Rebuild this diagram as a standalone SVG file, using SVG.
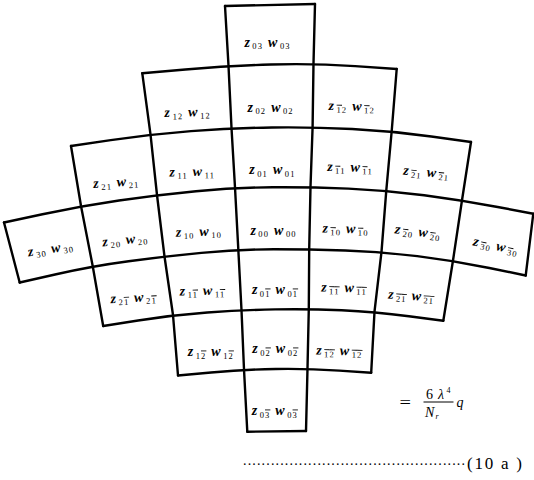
<svg xmlns="http://www.w3.org/2000/svg" width="534" height="480" viewBox="0 0 534 480">
<style>
.g{fill:none;stroke:#000;stroke-width:2.4;stroke-linejoin:round;stroke-linecap:round}
.l{font-family:"Liberation Serif","Times New Roman",serif;fill:#000;text-anchor:middle}
.v{font-size:14px;font-weight:bold;font-style:italic}
.s{font-size:8.5px;letter-spacing:1.1px}
.o{text-decoration:overline}
.f{font-family:"Liberation Serif","Times New Roman",serif;fill:#000}
.i{font-style:italic}
</style>
<rect width="534" height="480" fill="#fff"/>
<g id="grid" class="g">
<path d="M4,222.5 L19.7,282.5"/>
<path d="M71,146 L81,206 L92.7,266 L103.2,326"/>
<path d="M142.3,73.3 L150.5,134.3 L157,195 L164.5,256.5 L173,315 L178,375.5"/>
<path d="M225,6 L228.5,65.7 L231.5,128 L235,187.5 L238.3,249.3 L241.5,310 L244,369.5 L247.3,431.7"/>
<path d="M315,4 L313.5,63.3 L312.6,127 L310.5,187 L309.2,249.3 L308.8,308.8 L307.5,368.5 L306,431"/>
<path d="M396.7,69 L391.7,131 L386.3,190.3 L381.5,251.8 L374.5,311.7 L371.2,372.7"/>
<path d="M471,142 L462,200.3 L453,260.5 L443.3,320.7"/>
<path d="M533.3,213.7 L525.7,275.5"/>
<path d="M225,6 L315,4"/>
<path d="M142.3,73.3 L185.4,69.5 Q228.5,65.7 271,64.5 Q313.5,63.3 355.1,66.15 L396.7,69"/>
<path d="M71,146 L110.75,140.15 Q150.5,134.3 191,131.15 Q231.5,128 272.05,127.5 Q312.6,127 352.15,129 Q391.7,131 431.35,136.5 L471,142"/>
<path d="M4,222.5 L42.5,214.25 Q81,206 119,200.5 Q157,195 196,191.25 Q235,187.5 272.75,187.25 Q310.5,187 348.4,188.65 Q386.3,190.3 424.15,195.3 Q462,200.3 497.65,207 L533.3,213.7"/>
<path d="M19.7,282.5 L56.2,274.25 Q92.7,266 128.6,261.25 Q164.5,256.5 201.4,252.9 Q238.3,249.3 273.75,249.3 Q309.2,249.3 345.35,250.55 Q381.5,251.8 417.25,256.15 Q453,260.5 489.35,268 L525.7,275.5"/>
<path d="M103.2,326 L138.1,320.5 Q173,315 207.25,312.5 Q241.5,310 275.15,309.4 Q308.8,308.8 341.65,310.25 Q374.5,311.7 408.9,316.2 L443.3,320.7"/>
<path d="M178,375.5 L211,372.5 Q244,369.5 275.75,369 Q307.5,368.5 339.35,370.6 L371.2,372.7"/>
<path d="M247.3,431.7 L306,431"/>
</g>
<g id="c03"><text class="l" transform="translate(267.5,46.5)"><tspan class="v">z</tspan><tspan class="s" dx="2.5" dy="2.5">03</tspan><tspan class="v" dx="5" dy="-2.5">w</tspan><tspan class="s" dx="2.5" dy="2.5">03</tspan></text></g>
<g id="c12"><text class="l" transform="translate(187.7,116.5) rotate(-1.5)"><tspan class="v">z</tspan><tspan class="s" dx="2.5" dy="2.5">12</tspan><tspan class="v" dx="5" dy="-2.5">w</tspan><tspan class="s" dx="2.5" dy="2.5">12</tspan></text></g>
<g id="c02"><text class="l" transform="translate(270.6,111.5)"><tspan class="v">z</tspan><tspan class="s" dx="2.5" dy="2.5">02</tspan><tspan class="v" dx="5" dy="-2.5">w</tspan><tspan class="s" dx="2.5" dy="2.5">02</tspan></text></g>
<g id="cm12"><text class="l" transform="translate(351.7,110.5) rotate(1)"><tspan class="v">z</tspan><tspan class="s" dx="2.5" dy="2.5"><tspan class="o">1</tspan>2</tspan><tspan class="v" dx="5" dy="-2.5">w</tspan><tspan class="s" dx="2.5" dy="2.5"><tspan class="o">1</tspan>2</tspan></text></g>
<g id="c21"><text class="l" transform="translate(116.5,186.5) rotate(-4)"><tspan class="v">z</tspan><tspan class="s" dx="2.5" dy="2.5">21</tspan><tspan class="v" dx="5" dy="-2.5">w</tspan><tspan class="s" dx="2.5" dy="2.5">21</tspan></text></g>
<g id="c11"><text class="l" transform="translate(192.3,176) rotate(-1)"><tspan class="v">z</tspan><tspan class="s" dx="2.5" dy="2.5">11</tspan><tspan class="v" dx="5" dy="-2.5">w</tspan><tspan class="s" dx="2.5" dy="2.5">11</tspan></text></g>
<g id="c01"><text class="l" transform="translate(272.4,174)"><tspan class="v">z</tspan><tspan class="s" dx="2.5" dy="2.5">01</tspan><tspan class="v" dx="5" dy="-2.5">w</tspan><tspan class="s" dx="2.5" dy="2.5">01</tspan></text></g>
<g id="cm11"><text class="l" transform="translate(350,171.5) rotate(1)"><tspan class="v">z</tspan><tspan class="s" dx="2.5" dy="2.5"><tspan class="o">1</tspan>1</tspan><tspan class="v" dx="5" dy="-2.5">w</tspan><tspan class="s" dx="2.5" dy="2.5"><tspan class="o">1</tspan>1</tspan></text></g>
<g id="cm21"><text class="l" transform="translate(426,176.5) rotate(5)"><tspan class="v">z</tspan><tspan class="s" dx="2.5" dy="2.5"><tspan class="o">2</tspan>1</tspan><tspan class="v" dx="5" dy="-2.5">w</tspan><tspan class="s" dx="2.5" dy="2.5"><tspan class="o">2</tspan>1</tspan></text></g>
<g id="c30"><text class="l" transform="translate(51.3,253) rotate(-9)"><tspan class="v">z</tspan><tspan class="s" dx="2.5" dy="2.5">30</tspan><tspan class="v" dx="5" dy="-2.5">w</tspan><tspan class="s" dx="2.5" dy="2.5">30</tspan></text></g>
<g id="c20"><text class="l" transform="translate(125.7,244) rotate(-6)"><tspan class="v">z</tspan><tspan class="s" dx="2.5" dy="2.5">20</tspan><tspan class="v" dx="5" dy="-2.5">w</tspan><tspan class="s" dx="2.5" dy="2.5">20</tspan></text></g>
<g id="c10"><text class="l" transform="translate(199,236) rotate(-2)"><tspan class="v">z</tspan><tspan class="s" dx="2.5" dy="2.5">10</tspan><tspan class="v" dx="5" dy="-2.5">w</tspan><tspan class="s" dx="2.5" dy="2.5">10</tspan></text></g>
<g id="c00"><text class="l" transform="translate(273.5,234.5)"><tspan class="v">z</tspan><tspan class="s" dx="2.5" dy="2.5">00</tspan><tspan class="v" dx="5" dy="-2.5">w</tspan><tspan class="s" dx="2.5" dy="2.5">00</tspan></text></g>
<g id="cm10"><text class="l" transform="translate(345.5,233) rotate(1)"><tspan class="v">z</tspan><tspan class="s" dx="2.5" dy="2.5"><tspan class="o">1</tspan>0</tspan><tspan class="v" dx="5" dy="-2.5">w</tspan><tspan class="s" dx="2.5" dy="2.5"><tspan class="o">1</tspan>0</tspan></text></g>
<g id="cm20"><text class="l" transform="translate(417.5,236) rotate(7)"><tspan class="v">z</tspan><tspan class="s" dx="2.5" dy="2.5"><tspan class="o">2</tspan>0</tspan><tspan class="v" dx="5" dy="-2.5">w</tspan><tspan class="s" dx="2.5" dy="2.5"><tspan class="o">2</tspan>0</tspan></text></g>
<g id="cm30"><text class="l" transform="translate(495,250) rotate(12)"><tspan class="v">z</tspan><tspan class="s" dx="2.5" dy="2.5"><tspan class="o">3</tspan>0</tspan><tspan class="v" dx="5" dy="-2.5">w</tspan><tspan class="s" dx="2.5" dy="2.5"><tspan class="o">3</tspan>0</tspan></text></g>
<g id="c2m1"><text class="l" transform="translate(133.8,302) rotate(-3)"><tspan class="v">z</tspan><tspan class="s" dx="2.5" dy="2.5">2<tspan class="o">1</tspan></tspan><tspan class="v" dx="5" dy="-2.5">w</tspan><tspan class="s" dx="2.5" dy="2.5">2<tspan class="o">1</tspan></tspan></text></g>
<g id="c1m1"><text class="l" transform="translate(202.5,295) rotate(-1)"><tspan class="v">z</tspan><tspan class="s" dx="2.5" dy="2.5">1<tspan class="o">1</tspan></tspan><tspan class="v" dx="5" dy="-2.5">w</tspan><tspan class="s" dx="2.5" dy="2.5">1<tspan class="o">1</tspan></tspan></text></g>
<g id="c0m1"><text class="l" transform="translate(275,294)"><tspan class="v">z</tspan><tspan class="s" dx="2.5" dy="2.5">0<tspan class="o">1</tspan></tspan><tspan class="v" dx="5" dy="-2.5">w</tspan><tspan class="s" dx="2.5" dy="2.5">0<tspan class="o">1</tspan></tspan></text></g>
<g id="cm1m1"><text class="l" transform="translate(344,292) rotate(1)"><tspan class="v">z</tspan><tspan class="s" dx="2.5" dy="2.5"><tspan class="o">1</tspan><tspan class="o">1</tspan></tspan><tspan class="v" dx="5" dy="-2.5">w</tspan><tspan class="s" dx="2.5" dy="2.5"><tspan class="o">1</tspan><tspan class="o">1</tspan></tspan></text></g>
<g id="cm2m1"><text class="l" transform="translate(411,300) rotate(4)"><tspan class="v">z</tspan><tspan class="s" dx="2.5" dy="2.5"><tspan class="o">2</tspan><tspan class="o">1</tspan></tspan><tspan class="v" dx="5" dy="-2.5">w</tspan><tspan class="s" dx="2.5" dy="2.5"><tspan class="o">2</tspan><tspan class="o">1</tspan></tspan></text></g>
<g id="c1m2"><text class="l" transform="translate(210.8,356)"><tspan class="v">z</tspan><tspan class="s" dx="2.5" dy="2.5">1<tspan class="o">2</tspan></tspan><tspan class="v" dx="5" dy="-2.5">w</tspan><tspan class="s" dx="2.5" dy="2.5">1<tspan class="o">2</tspan></tspan></text></g>
<g id="c0m2"><text class="l" transform="translate(275.3,353)"><tspan class="v">z</tspan><tspan class="s" dx="2.5" dy="2.5">0<tspan class="o">2</tspan></tspan><tspan class="v" dx="5" dy="-2.5">w</tspan><tspan class="s" dx="2.5" dy="2.5">0<tspan class="o">2</tspan></tspan></text></g>
<g id="cm1m2"><text class="l" transform="translate(339.3,355) rotate(1)"><tspan class="v">z</tspan><tspan class="s" dx="2.5" dy="2.5"><tspan class="o">1</tspan><tspan class="o">2</tspan></tspan><tspan class="v" dx="5" dy="-2.5">w</tspan><tspan class="s" dx="2.5" dy="2.5"><tspan class="o">1</tspan><tspan class="o">2</tspan></tspan></text></g>
<g id="c0m3"><text class="l" transform="translate(274.8,415)"><tspan class="v">z</tspan><tspan class="s" dx="2.5" dy="2.5">0<tspan class="o">3</tspan></tspan><tspan class="v" dx="5" dy="-2.5">w</tspan><tspan class="s" dx="2.5" dy="2.5">0<tspan class="o">3</tspan></tspan></text></g>
<g id="formula">
<text class="f" x="399.5" y="408" font-size="17" textLength="11.5" lengthAdjust="spacingAndGlyphs">=</text>
<text class="f" x="426" y="398.5" font-size="14">6</text>
<text class="f i" x="438" y="398.5" font-size="14">λ</text>
<text class="f" x="446.5" y="393" font-size="8">4</text>
<line x1="423.5" y1="402" x2="453.5" y2="402" stroke="#000" stroke-width="1"/>
<text class="f i" x="425" y="416.5" font-size="14">N</text>
<text class="f i" x="435.5" y="419" font-size="8">r</text>
<text class="f i" x="456.5" y="406.5" font-size="14">q</text>
</g>
<g id="eqno">
<text class="f" x="243" y="465" font-size="14" textLength="222" lengthAdjust="spacing">................................................</text>
<text class="f" x="467" y="468.5" font-size="17" textLength="55" lengthAdjust="spacing">(10 a )</text>
</g>
</svg>
